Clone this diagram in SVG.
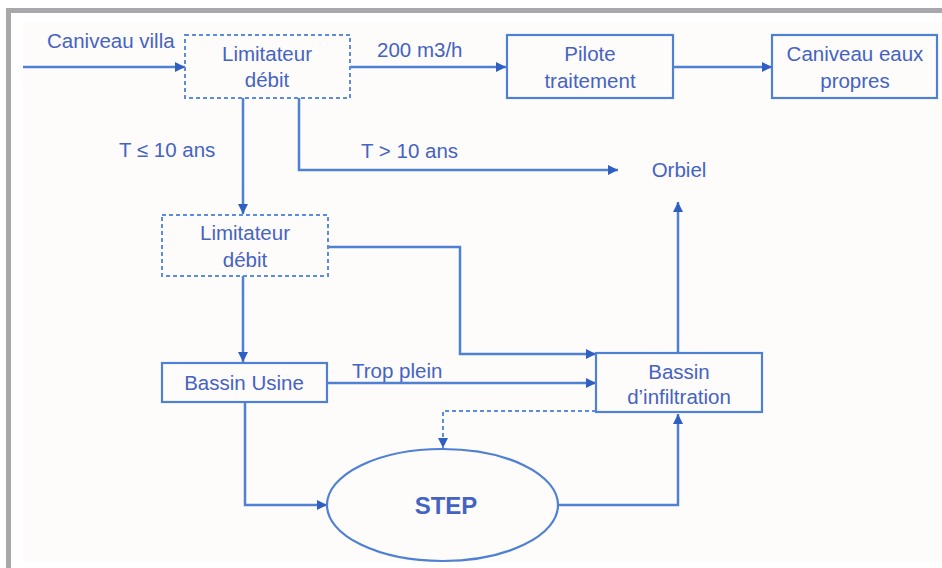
<svg xmlns="http://www.w3.org/2000/svg" width="942" height="568" viewBox="0 0 942 568">
  <style>
    .box { fill: none; stroke: #4f80d4; stroke-width: 2.2; }
    .dash { fill: none; stroke: #5a8de0; stroke-width: 2; stroke-dasharray: 4 3; }
    .edge { fill: none; stroke: #4f80d4; stroke-width: 2.5; }
    .edge-dash { fill: none; stroke: #5a8de0; stroke-width: 2; stroke-dasharray: 4 3; }
    text { font-family: "Liberation Sans", Arial, sans-serif; font-size: 20.5px; fill: #4563c2; text-anchor: middle; }
    .lbl { text-anchor: start; }
    .big { font-size: 24px; font-weight: bold; }
  </style>
  <defs>
    <marker id="arrow" viewBox="0 0 10 10" refX="10" refY="5" markerWidth="12" markerHeight="10" markerUnits="userSpaceOnUse" orient="auto">
      <path d="M0,0 L10,5 L0,10 z" fill="#2f5fc0"/>
    </marker>
  </defs>

  <!-- page frame -->
  <rect x="0" y="0" width="942" height="568" fill="#ffffff"/>
  <rect x="6" y="8" width="936" height="5" fill="#a8a8ac"/>
  <rect x="6" y="8" width="5" height="560" fill="#a8a8ac"/>
  <rect x="23" y="22" width="919" height="540" fill="#fdfcfb"/>

  <!-- connectors -->
  <g id="connectors">
    <path class="edge" d="M23,67 H185" marker-end="url(#arrow)"/>
    <text class="lbl" x="47" y="48">Caniveau villa</text>

    <path class="edge" d="M350,67 H506" marker-end="url(#arrow)"/>
    <text class="lbl" x="377" y="57">200 m3/h</text>

    <path class="edge" d="M673,67 H772" marker-end="url(#arrow)"/>

    <path class="edge" d="M243,98 V214" marker-end="url(#arrow)"/>
    <text class="lbl" x="119" y="157">T ≤ 10 ans</text>

    <path class="edge" d="M299,98 V170 H618" marker-end="url(#arrow)"/>
    <text class="lbl" x="361" y="158">T &gt; 10 ans</text>

    <path class="edge" d="M328,247 H460 V354 H596" marker-end="url(#arrow)"/>

    <path class="edge" d="M243,276 V362" marker-end="url(#arrow)"/>

    <path class="edge" d="M327,383 H596" marker-end="url(#arrow)"/>
    <text class="lbl" x="352" y="378">Trop plein</text>

    <path class="edge" d="M678,353 V202" marker-end="url(#arrow)"/>

    <path class="edge-dash" d="M596,411 H443 V448" marker-end="url(#arrow)"/>

    <path class="edge" d="M245,402 V505 H327" marker-end="url(#arrow)"/>

    <path class="edge" d="M558,505 H678 V414" marker-end="url(#arrow)"/>
  </g>

  <!-- nodes -->
  <g id="limitateur-1">
    <rect class="dash" x="185" y="35" width="165" height="63"/>
    <text x="267" y="61">Limitateur</text>
    <text x="267" y="87">débit</text>
  </g>

  <g id="pilote">
    <rect class="box" x="507" y="35" width="166" height="63"/>
    <text x="590" y="61">Pilote</text>
    <text x="590" y="88">traitement</text>
  </g>

  <g id="caniveau-propres">
    <rect class="box" x="772" y="35" width="165" height="63"/>
    <text x="855" y="61">Caniveau eaux</text>
    <text x="855" y="88">propres</text>
  </g>

  <g id="orbiel">
    <text x="679" y="177">Orbiel</text>
  </g>

  <g id="limitateur-2">
    <rect class="dash" x="162" y="215" width="166" height="61"/>
    <text x="245" y="240">Limitateur</text>
    <text x="245" y="267">débit</text>
  </g>

  <g id="bassin-usine">
    <rect class="box" x="162" y="363" width="165" height="39"/>
    <text x="244" y="390">Bassin Usine</text>
  </g>

  <g id="bassin-infiltration">
    <rect class="box" x="596" y="353" width="166" height="59"/>
    <text x="679" y="379">Bassin</text>
    <text x="679" y="404">d’infiltration</text>
  </g>

  <g id="step">
    <ellipse cx="442.5" cy="505" rx="115.5" ry="56" fill="none" stroke="#4f80d4" stroke-width="2.2"/>
    <text class="big" x="446" y="514">STEP</text>
  </g>
</svg>
